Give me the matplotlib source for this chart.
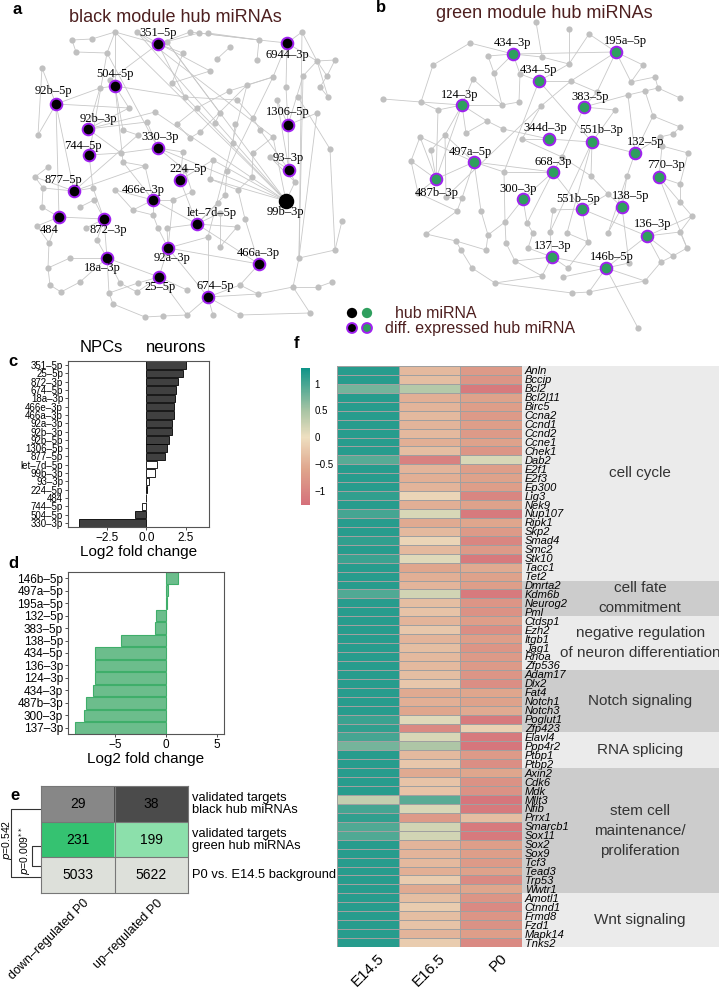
import numpy as np
import matplotlib.pyplot as plt
from matplotlib.collections import LineCollection
from matplotlib.colors import LinearSegmentedColormap, to_rgb
from matplotlib.transforms import ScaledTranslation

W, H = 719, 991
SANS = 'Liberation Sans'
SERIF = 'Liberation Serif'
TITLE_COL = '#4d1f1f'
plt.rcParams['font.family'] = [SANS, 'DejaVu Sans']

# ---------------- panel a: black module network (layout in px) ----------------
a_hubs = ['351-5p', '6944-3p', '504-5p', '92b-5p', '1306-5p', '92b-3p', '330-3p',
          '744-5p', '93-3p', '224-5p', '877-5p', '466e-3p', '99b-3p', '484',
          '872-3p', 'let-7d-5p', '92a-3p', '18a-3p', '466a-3p', '25-5p', '674-5p']
a_hub_x = [158, 287, 115, 56, 288, 88, 158, 89, 289, 180, 74, 153, 286, 59,
           104, 197, 168, 107, 259, 159, 208]
a_hub_y = [44, 43, 86, 104, 125, 129, 148, 155, 170, 180, 191, 200, 201, 217,
           219, 224, 248, 258, 264, 277, 297]
a_lab_x = [158, 287, 115, 53, 288, 98, 160, 83, 288, 188, 63, 143, 285, 49,
           108, 212, 172, 102, 258, 160, 215]
a_lab_y = [33, 55, 74, 91, 112, 119, 137, 146, 158, 169, 180, 190, 212, 230,
           230, 213, 258, 268, 253, 287, 286]
a_ring = [True] * 12 + [False] + [True] * 8

a_gray = [(115, 32), (137, 32), (190, 32), (199, 33), (208, 33), (302, 32), (72, 40),
          (92, 39), (167, 42), (259, 40), (230, 47), (76, 52), (107, 53), (183, 53),
          (217, 59), (257, 60), (317, 61), (335, 60), (42, 68), (210, 71), (273, 77),
          (303, 76), (327, 76), (110, 80), (172, 83), (247, 85), (229, 91), (286, 87),
          (100, 88), (320, 87), (185, 97), (328, 97), (298, 97), (237, 100), (277, 100),
          (129, 108), (197, 108), (155, 112), (220, 113), (317, 113), (253, 118),
          (147, 122), (177, 124), (215, 123), (200, 132), (235, 124), (260, 130),
          (38, 135), (123, 130), (138, 135), (273, 137), (190, 138), (233, 143),
          (253, 153), (330, 149), (183, 152), (121, 153), (123, 162), (48, 167),
          (145, 166), (213, 160), (227, 171), (270, 157), (35, 177), (43, 188),
          (210, 179), (185, 170), (252, 177), (295, 182), (93, 188), (115, 190),
          (225, 195), (173, 200), (192, 192), (238, 190), (94, 200), (133, 210),
          (218, 203), (42, 207), (80, 207), (153, 215), (245, 219), (342, 221),
          (220, 213), (37, 226), (158, 228), (167, 228), (237, 227), (86, 228),
          (208, 237), (49, 243), (97, 240), (220, 247), (335, 250), (299, 258),
          (70, 258), (48, 268), (80, 282), (120, 283), (138, 283), (240, 285),
          (293, 287), (318, 287), (332, 282), (50, 285), (61, 292), (109, 293),
          (137, 292), (187, 290), (258, 294), (113, 304), (145, 317), (163, 316),
          (187, 315), (213, 315), (240, 315), (310, 313)]

a_edges = [
    ('351-5p', 0), ('351-5p', 8), ('351-5p', 3), ('351-5p', 13), ('351-5p', 23),
    ('351-5p', 30), ('351-5p', 2),
    ('6944-3p', 5), ('6944-3p', 16), ('6944-3p', 20), ('6944-3p', 27), ('6944-3p', 9),
    ('504-5p', 0), ('504-5p', 23), ('504-5p', 28), ('504-5p', 35), ('504-5p', 48),
    ('504-5p', 57), ('504-5p', 30),
    ('92b-5p', 18), ('92b-5p', 28), ('92b-5p', 47), ('92b-5p', 35), ('92b-5p', '484'),
    ('92b-5p', '877-5p'),
    ('1306-5p', 27), ('1306-5p', 21), ('1306-5p', 39), ('1306-5p', 34), ('1306-5p', '93-3p'),
    ('92b-3p', 28), ('92b-3p', 35), ('92b-3p', 37), ('92b-3p', 41), ('92b-3p', 56),
    ('330-3p', 41), ('330-3p', 55), ('330-3p', 56), ('330-3p', 12), ('330-3p', 66),
    ('330-3p', '99b-3p'),
    ('744-5p', 56), ('744-5p', 69), ('744-5p', 12),
    ('93-3p', 46), ('93-3p', 62), ('93-3p', 68), ('93-3p', 34),
    ('224-5p', 66), ('224-5p', 60), ('224-5p', 'let-7d-5p'), ('224-5p', 55),
    ('877-5p', 63), ('877-5p', 64), ('877-5p', 49), ('877-5p', 69), ('877-5p', 59),
    ('466e-3p', 57), ('466e-3p', 59), ('466e-3p', 72), ('466e-3p', 76),
    ('466e-3p', 'let-7d-5p'), ('466e-3p', 80), ('466e-3p', 70),
    ('99b-3p', 0), ('99b-3p', 1), ('99b-3p', 8), ('99b-3p', 24), ('99b-3p', 37),
    ('99b-3p', 50), ('99b-3p', 65), ('99b-3p', 60), ('99b-3p', 68),
    ('484', 78), ('484', 84), ('484', 90), ('484', '872-3p'),
    ('872-3p', 69), ('872-3p', 75), ('872-3p', 88), ('872-3p', 91), ('872-3p', '18a-3p'),
    ('let-7d-5p', 71), ('let-7d-5p', 77), ('let-7d-5p', 83), ('let-7d-5p', 87),
    ('let-7d-5p', 86), ('let-7d-5p', '466a-3p'),
    ('92a-3p', 85), ('92a-3p', 86), ('92a-3p', 89), ('92a-3p', 72), ('92a-3p', '25-5p'),
    ('92a-3p', '674-5p'),
    ('18a-3p', 91), ('18a-3p', 95), ('18a-3p', 97), ('18a-3p', 98), ('18a-3p', 106),
    ('18a-3p', '25-5p'),
    ('466a-3p', 81), ('466a-3p', 100), ('466a-3p', '92a-3p'),
    ('25-5p', 99), ('25-5p', 107), ('25-5p', 108), ('25-5p', 113),
    ('674-5p', 89), ('674-5p', 100), ('674-5p', 113), ('674-5p', 114), ('674-5p', 115),
    ('674-5p', 109),
    (6, 7), (7, 0), (11, 6), (12, 11), (1, 19), (2, 9), (3, 9), (4, 9), (8, 38), (13, 24),
    (14, 10), (15, 9), (16, 17), (16, 21), (16, 22), (16, 31), (22, 29), (29, 31), (17, 22),
    (19, 24), (20, 25), (20, 26), (25, 44), (26, 36), (30, 33), (33, 40), (40, 46), (45, 52),
    (43, 38), (36, 42), (42, 51), (44, 51), (47, 18), (49, 48), (50, 53), (53, 67), (54, 93),
    (39, 94), (32, 54), (21, 94), (5, 16), (61, 71), (60, 65), (65, 74), (67, 74), (74, 81),
    (83, 92), (92, 87), (82, 93), (93, 94), (94, 101), (101, 102), (102, 103), (101, 116),
    (116, 115), (100, 109), (109, 101), (97, 105), (104, 105), (96, 90), (95, 96),
    (110, 111), (111, 112), (112, 113), (99, 106), (98, 107), (76, 80), (80, 85), (72, 73),
    (73, 66), (62, 68), (64, 63), (58, 63), (79, 75), (70, 76), (59, 57), (84, 90), (78, 64),
    (0, 12), (20, 61), (25, 89), (5, 94), (1, 50), (106, 110), (96, 104),
]

# ---------------- panel b: green module network (layout in px) ----------------
b_hubs = ['434-3p', '195a-5p', '434-5p', '124-3p', '383-5p', '344d-3p', '551b-3p',
          '132-5p', '497a-5p', '668-3p', '770-3p', '487b-3p', '300-3p', '551b-5p',
          '138-5p', '136-3p', '137-3p', '146b-5p']
b_hub_x = [513, 616, 539, 462, 584, 549, 592, 635, 474, 553, 659, 436, 523, 582,
           622, 647, 552, 606]
b_hub_y = [54, 52, 81, 105, 107, 139, 142, 153, 162, 172, 177, 179, 199, 209,
           207, 236, 257, 268]
b_lab_x = [512, 625, 538, 460, 590, 545, 601, 646, 470, 553, 666, 437, 518, 578,
           631, 653, 553, 612]
b_lab_y = [43, 41, 70, 95, 97, 128, 130, 142, 152, 162, 165, 193, 189, 199,
           196, 224, 246, 257]

b_gray = [(536, 22), (569, 29), (589, 34), (470, 43), (488, 56), (542, 57), (569, 64),
          (643, 65), (433, 65), (494, 73), (520, 74), (473, 79), (571, 81), (631, 82),
          (655, 77), (597, 92), (628, 95), (645, 91), (658, 88), (680, 98), (383, 99),
          (421, 102), (502, 105), (519, 102), (541, 106), (615, 110), (438, 110),
          (653, 116), (487, 121), (680, 127), (673, 134), (420, 137), (445, 135),
          (466, 133), (503, 129), (522, 139), (660, 137), (662, 146), (431, 150),
          (411, 161), (562, 157), (688, 153), (504, 172), (591, 176), (627, 176),
          (680, 184), (418, 193), (446, 197), (462, 198), (608, 194), (680, 202),
          (457, 211), (481, 211), (505, 222), (527, 223), (553, 210), (692, 216),
          (426, 234), (456, 241), (488, 235), (533, 233), (550, 232), (567, 233),
          (588, 242), (608, 233), (680, 232), (461, 250), (486, 250), (506, 243),
          (528, 248), (687, 248), (673, 256), (472, 268), (515, 261), (568, 268),
          (629, 263), (661, 262), (542, 276), (563, 277), (645, 281), (495, 283),
          (572, 293), (589, 292), (638, 328)]

b_edges = [
    ('434-3p', 3), ('434-3p', 4), ('434-3p', 5), ('434-3p', '195a-5p'), ('434-3p', 9),
    ('434-3p', 10),
    ('195a-5p', 2), ('195a-5p', 12), ('195a-5p', 13), ('195a-5p', 7), ('195a-5p', 15),
    ('434-5p', 10), ('434-5p', 6), ('434-5p', 12), ('434-5p', '551b-3p'), ('434-5p', 42),
    ('124-3p', 11), ('124-3p', 21), ('124-3p', 26), ('124-3p', 28), ('124-3p', '487b-3p'),
    ('124-3p', 32), ('124-3p', 33), ('124-3p', 22),
    ('383-5p', 15), ('383-5p', 25), ('383-5p', 16), ('383-5p', 40),
    ('344d-3p', 35), ('344d-3p', '551b-3p'), ('344d-3p', 34),
    ('551b-3p', 25), ('551b-3p', '132-5p'), ('551b-3p', 43), ('551b-3p', 61), ('551b-3p', 62),
    ('132-5p', 27), ('132-5p', 36), ('132-5p', 44), ('132-5p', 16),
    ('497a-5p', 31), ('497a-5p', 32), ('497a-5p', '487b-3p'), ('497a-5p', 42),
    ('497a-5p', 52), ('497a-5p', 48), ('497a-5p', '668-3p'),
    ('668-3p', 42), ('668-3p', 40), ('668-3p', 54), ('668-3p', '551b-5p'), ('668-3p', '300-3p'),
    ('770-3p', 37), ('770-3p', 45), ('770-3p', 50), ('770-3p', 70),
    ('487b-3p', 31), ('487b-3p', 38), ('487b-3p', 39), ('487b-3p', 46), ('487b-3p', 26),
    ('300-3p', 54), ('300-3p', 53),
    ('551b-5p', 49), ('551b-5p', 55), ('551b-5p', '136-3p'), ('551b-5p', 63),
    ('138-5p', 44), ('138-5p', 49), ('138-5p', 64), ('138-5p', 75),
    ('136-3p', 65), ('136-3p', 56), ('136-3p', 71), ('136-3p', '146b-5p'), ('136-3p', 76),
    ('137-3p', 61), ('137-3p', 74), ('137-3p', '146b-5p'), ('137-3p', 69), ('137-3p', 73),
    ('137-3p', 77),
    ('146b-5p', 75), ('146b-5p', 78), ('146b-5p', 82), ('146b-5p', 83), ('146b-5p', 79),
    (0, 5), (1, 6), (2, 6), (3, 8), (8, 21), (20, 21), (21, 26), (4, 9), (11, 22), (22, 23),
    (9, 22), (12, 24), (24, 35), (13, 14), (14, 18), (17, 18), (16, 17), (18, 19), (17, 27),
    (27, 29), (29, 30), (36, 30), (37, 41), (41, 45), (45, 50), (50, 56), (56, 65), (65, 70),
    (70, 71), (71, 76), (76, 79), (79, 82), (31, 39), (39, 46), (46, 51), (51, 57), (57, 58),
    (58, 66), (66, 72), (72, 80), (80, 81), (81, 82), (77, 80), (67, 59), (59, 53), (53, 68),
    (68, 73), (73, 77), (60, 69), (60, 54), (62, 63), (63, 74), (64, 44), (49, 43), (47, 48),
    (48, 51), (52, 59), (33, 28), (28, 34), (35, 40), (40, 43), (42, 53), (58, 67), (32, 47),
    (38, 32), (55, 61), (10, 23), (12, 15), (7, 13), (5, 6), (24, 47),
]

# ---------------- panel c / d: log2 fold change ----------------
c_names = ['351-5p', '25-5p', '872-3p', '674-5p', '18a-3p', '466e-3p', '466a-3p',
           '92a-3p', '92b-3p', '92b-5p', '1306-5p', '877-5p', 'let-7d-5p', '99b-3p',
           '93-3p', '224-5p', '484', '744-5p', '504-5p', '330-3p']
c_lfc = [2.54, 2.33, 2.03, 1.90, 1.86, 1.77, 1.77, 1.65, 1.65, 1.47, 1.35, 1.22,
         0.70, 0.53, 0.19, 0.04, 0.01, -0.28, -0.70, -4.29]
c_sig = [True] * 12 + [False, False, False, True, True, False, True, True]

d_names = ['146b-5p', '497a-5p', '195a-5p', '132-5p', '383-5p', '138-5p', '434-5p',
           '136-3p', '124-3p', '434-3p', '487b-3p', '300-3p', '137-3p']
d_lfc = [1.10, 0.20, 0.10, -1.00, -1.15, -4.40, -6.96, -7.00, -7.00, -7.15, -7.85,
         -8.07, -8.95]

# ---------------- panel e: overlap table ----------------
e_rows = ['validated targets\nblack hub miRNAs', 'validated targets\ngreen hub miRNAs',
          'P0 vs. E14.5 background']
e_cols = ['down–regulated P0', 'up–regulated P0']
e_counts = [[29, 38], [231, 199], [5033, 5622]]
e_colors = [['#878787', '#4b4b4b'], ['#35c271', '#8ce0ab'], ['#dde0da', '#dde0da']]

# ---------------- panel f: heatmap ----------------
f_groups = ['cell cycle', 'cell fate\ncommitment',
            'negative regulation\nof neuron differentiation', 'Notch signaling',
            'RNA splicing', 'stem cell\nmaintenance/\nproliferation', 'Wnt signaling']
f_group_sizes = [24, 4, 6, 7, 4, 14, 6]
f_genes = ['Anln', 'Bccip', 'Bcl2', 'Bcl2l11', 'Birc5', 'Ccna2', 'Ccnd1', 'Ccnd2',
           'Ccne1', 'Chek1', 'Dab2', 'E2f1', 'E2f3', 'Ep300', 'Lig3', 'Nek9', 'Nup107',
           'Ripk1', 'Skp2', 'Smad4', 'Smc2', 'Stk10', 'Tacc1', 'Tet2',
           'Dmrta2', 'Kdm6b', 'Neurog2', 'Pml',
           'Ctdsp1', 'Ezh2', 'Itgb1', 'Jag1', 'Rhoa', 'Zfp536',
           'Adam17', 'Dlx2', 'Fat4', 'Notch1', 'Notch3', 'Poglut1', 'Zfp423',
           'Elavl4', 'Ppp4r2', 'Ptbp1', 'Ptbp2',
           'Axin2', 'Cdk6', 'Mdk', 'Mllt3', 'Nfib', 'Prrx1', 'Smarcb1', 'Sox11', 'Sox2',
           'Sox9', 'Tcf3', 'Tead3', 'Trp53', 'Wwtr1',
           'Amotl1', 'Ctnnd1', 'Frmd8', 'Fzd1', 'Mapk14', 'Tnks2']
f_stages = ['E14.5', 'E16.5', 'P0']
f_e145 = [1.15, 1.15, 0.75, 1.15, 1.15, 1.15, 1.15, 1.15, 1.15, 1.15, 0.90, 1.15, 1.15,
          1.15, 1.10, 1.15, 1.00, 1.15, 1.15, 1.10, 1.15, 1.05, 1.15, 1.15,
          1.15, 0.95, 1.15, 1.15,
          1.15, 1.15, 1.15, 1.15, 1.15, 1.15,
          1.15, 1.15, 1.15, 1.15, 1.15, 1.05, 1.10,
          1.00, 0.75, 1.15, 1.15,
          1.15, 1.15, 1.15, 0.30, 1.00, 1.10, 0.95, 0.95, 1.15, 1.15, 1.15, 1.15, 1.15, 1.15,
          1.15, 1.15, 1.15, 1.15, 1.15, 1.15]
f_e165 = [-0.40, -0.35, 0.40, -0.50, -0.45, -0.40, -0.45, -0.40, -0.50, -0.35, -1.05,
          -0.45, -0.50, -0.45, -0.10, -0.50, 0.15, -0.55, -0.40, -0.10, -0.40, 0.10,
          -0.60, -0.50,
          -0.45, 0.20, -0.35, -0.30,
          -0.45, -0.25, -0.45, -0.35, -0.40, -0.40,
          -0.35, -0.25, -0.55, -0.50, -0.60, 0.10, -0.95,
          0.15, 0.45, -0.40, -0.25,
          -0.55, -0.30, -0.30, 0.90, 0.15, -0.75, 0.20, 0.20, -0.45, -0.45, -0.40, -0.50,
          -0.20, -0.55,
          -0.35, -0.20, -0.35, -0.30, -0.45, -0.20]
f_p0 = [-0.75, -0.80, -1.15, -0.65, -0.70, -0.75, -0.70, -0.75, -0.65, -0.80, 0.15,
        -0.70, -0.65, -0.70, -1.00, -0.65, -1.15, -0.60, -0.75, -1.00, -0.75, -1.15,
        -0.55, -0.65,
        -0.70, -1.15, -0.80, -0.85,
        -0.70, -0.90, -0.70, -0.80, -0.75, -0.75,
        -0.80, -0.90, -0.60, -0.65, -0.55, -1.15, -0.15,
        -1.15, -1.20, -0.75, -0.90,
        -0.60, -0.85, -0.85, -1.20, -1.15, -0.35, -1.15, -1.15, -0.70, -0.70, -0.75,
        -0.65, -0.95, -0.60,
        -0.80, -0.95, -0.80, -0.85, -0.70, -0.95]


def px_axes(fig, left, top, right, bottom):
    return fig.add_axes([left / W, 1 - bottom / H, (right - left) / W, (bottom - top) / H])


def draw_network(ax, hubs, hx, hy, lx, ly, rings, gray, edges, fill):
    pos = {n: (x, y) for n, x, y in zip(hubs, hx, hy)}
    for i, p in enumerate(gray):
        pos[i] = p
    segs = [[pos[a], pos[b]] for a, b in edges]
    ax.add_collection(LineCollection(segs, colors='#c8c8c8', linewidths=0.6, zorder=1))
    gx, gy = zip(*gray)
    ax.scatter(gx, gy, s=20, color='#c0c0c0', linewidths=0, zorder=2)
    for n, x, y, tx, ty, r in zip(hubs, hx, hy, lx, ly, rings):
        ax.scatter([x], [y], s=70 if r else 95, color=fill,
                   edgecolors='#a020f0' if r else fill, linewidths=1.4, zorder=3)
        ax.text(tx, ty, n.replace('-', '–'), ha='center', va='center',
                fontsize=9, family=SERIF, color='black', zorder=4)


fig = plt.figure(figsize=(W / 100, H / 100), dpi=100)

# canvas in pixel units for networks, letters and annotations
ax0 = fig.add_axes([0, 0, 1, 1])
ax0.set_xlim(0, W)
ax0.set_ylim(H, 0)
ax0.axis('off')

draw_network(ax0, a_hubs, a_hub_x, a_hub_y, a_lab_x, a_lab_y, a_ring, a_gray, a_edges, 'black')
draw_network(ax0, b_hubs, b_hub_x, b_hub_y, b_lab_x, b_lab_y, [True] * len(b_hubs),
             b_gray, b_edges, '#2f9f5e')

ax0.text(175, 17, 'black module hub miRNAs', ha='center', va='center', fontsize=13,
         color=TITLE_COL)
ax0.text(544, 13, 'green module hub miRNAs', ha='center', va='center', fontsize=13,
         color=TITLE_COL)

# legend
ax0.scatter([352, 367], [313, 313], s=55, color=['black', '#2f9f5e'], linewidths=0)
ax0.scatter([352, 367], [328, 328], s=50, color=['black', '#2f9f5e'],
            edgecolors='#a020f0', linewidths=1.4)
ax0.text(395, 313, 'hub miRNA', va='center', fontsize=11.5, color=TITLE_COL)
ax0.text(385, 328, 'diff. expressed hub miRNA', va='center', fontsize=11.5, color=TITLE_COL)

for lab, x, y in [('a', 17, 10), ('b', 381, 7), ('c', 13, 361), ('d', 13, 564),
                  ('e', 15, 795), ('f', 297, 343)]:
    ax0.text(x, y, lab, ha='center', va='center', fontsize=12, fontweight='bold')

# ---- c ----
axc = px_axes(fig, 68, 361, 209, 527)
yc = np.arange(len(c_names))
axc.barh(yc, c_lfc, height=0.88, color=['#404040' if s else 'white' for s in c_sig],
         edgecolor='black', linewidth=0.6)
axc.set_ylim(len(c_names) - 0.5, -0.5)
axc.set_xlim(-5.0, 4.0)
axc.set_yticks(yc)
axc.set_yticklabels([n.replace('-', '–') for n in c_names], fontsize=7)
axc.set_xticks([-2.5, 0, 2.5])
axc.set_xticklabels(['−2.5', '0.0', '2.5'], fontsize=8.5)
axc.set_xlabel('Log2 fold change', fontsize=11, labelpad=1)
axc.tick_params(length=2.5, width=0.6, pad=1, color='#333333')
for sp in axc.spines.values():
    sp.set_color('#555555')
    sp.set_linewidth(0.8)
ax0.text(101, 347, 'NPCs', ha='center', va='center', fontsize=12)
ax0.text(176, 347, 'neurons', ha='center', va='center', fontsize=12)

# ---- d ----
axd = px_axes(fig, 68, 572, 224, 734)
yd = np.arange(len(d_names))
axd.barh(yd, d_lfc, height=0.92, color='#6cbd8c', edgecolor='#3fae6a', linewidth=0.8)
axd.set_ylim(len(d_names) - 0.5, -0.5)
axd.set_xlim(-9.64, 5.66)
axd.set_yticks(yd)
axd.set_yticklabels([n.replace('-', '–') for n in d_names], fontsize=8.5)
axd.set_xticks([-5, 0, 5])
axd.set_xticklabels(['−5', '0', '5'], fontsize=8.5)
axd.set_xlabel('Log2 fold change', fontsize=11, labelpad=1)
axd.tick_params(length=2.5, width=0.6, pad=1, color='#333333')
for sp in axd.spines.values():
    sp.set_color('#555555')
    sp.set_linewidth(0.8)

# ---- e ----
axe = px_axes(fig, 41, 786, 188, 893)
rgb = np.array([[to_rgb(c) for c in row] for row in e_colors])
axe.imshow(rgb, extent=(0, 2, 3, 0), aspect='auto')
axe.set_xlim(0, 2)
axe.set_ylim(3, 0)
for i, row in enumerate(e_counts):
    for j, v in enumerate(row):
        axe.text(j + 0.5, i + 0.5, str(v), ha='center', va='center', fontsize=10)
    axe.text(2.06, i + 0.5, e_rows[i], ha='left', va='center', fontsize=9.3,
             linespacing=1.0)
for k in range(1, 3):
    axe.axhline(k, color='#777777', lw=0.8)
axe.axvline(1, color='#777777', lw=0.8)
for sp in axe.spines.values():
    sp.set_color('#777777')
    sp.set_linewidth(0.8)
axe.set_yticks([])
axe.set_xticks([0.5, 1.5])
axe.set_xticklabels(e_cols, rotation=45, ha='right', va='top', rotation_mode='anchor',
                    fontsize=9)
axe.tick_params(axis='x', length=0, pad=3)
for t in axe.get_xticklabels():
    t.set_transform(t.get_transform() + ScaledTranslation(5 / 100, 0, fig.dpi_scale_trans))

ax0.plot([41, 11, 11, 41], [809, 809, 877, 877], color='#333333', lw=0.8)
ax0.plot([41, 32, 32, 41], [846, 846, 866, 866], color='#333333', lw=0.8)
ax0.text(6.5, 840, r'$\it{p}$=0.542', rotation=90, ha='center', va='center', fontsize=7.5)
ax0.text(25, 850, r'$\it{p}$=0.009$^{**}$', rotation=90, ha='center', va='center',
         fontsize=7.5)

# ---- f ----
cmap = LinearSegmentedColormap.from_list(
    'fc', [(0.0, '#d5707a'), (0.26, '#dfa58c'), (0.496, '#eedfc0'),
           (0.69, '#a8c4a4'), (1.0, '#0e9488')])
vmin, vmax = -1.27, 1.29

axg = px_axes(fig, 522, 366, 719, 947)
axg.set_xlim(0, 1)
axg.set_ylim(len(f_genes), 0)
axg.axis('off')
start = 0
for k, (g, n) in enumerate(zip(f_groups, f_group_sizes)):
    axg.axhspan(start, start + n, color='#ebebeb' if k % 2 == 0 else '#cccccc', lw=0)
    axg.text(0.6, start + n / 2, g, ha='center', va='center', fontsize=11,
             color='#333333', linespacing=1.55)
    start += n

axf = px_axes(fig, 337, 366, 522, 947)
M = np.column_stack([f_e145, f_e165, f_p0])
mesh = axf.pcolormesh(M, cmap=cmap, vmin=vmin, vmax=vmax, edgecolors='#a0a0a0',
                      linewidth=0.5)
axf.set_ylim(len(f_genes), 0)
axf.set_yticks(np.arange(len(f_genes)) + 0.5)
axf.set_yticklabels(f_genes, fontsize=8, style='italic')
axf.yaxis.tick_right()
axf.set_xticks([0.5, 1.5, 2.5])
axf.set_xticklabels(f_stages, rotation=45, ha='right', va='top', rotation_mode='anchor',
                    fontsize=11)
axf.tick_params(length=0, pad=2)
axf.tick_params(axis='x', pad=3)
for t in axf.get_xticklabels():
    t.set_transform(t.get_transform() + ScaledTranslation(9 / 100, 0, fig.dpi_scale_trans))
for sp in axf.spines.values():
    sp.set_visible(False)

cax = px_axes(fig, 301, 368, 310, 505)
cb = fig.colorbar(mesh, cax=cax, ticks=[-1, -0.5, 0, 0.5, 1])
cb.ax.set_yticklabels(['−1', '−0.5', '0', '0.5', '1'], fontsize=7)
cb.ax.tick_params(length=0, pad=3)
cb.outline.set_visible(False)

fig.savefig('out.png', dpi=100)
